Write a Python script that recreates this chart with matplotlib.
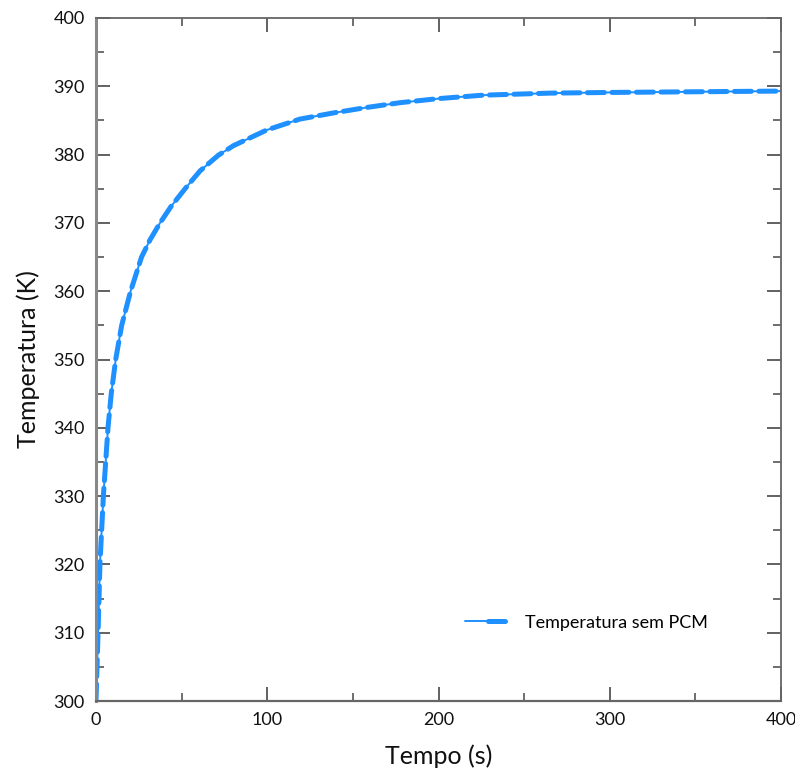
import matplotlib
matplotlib.use("Agg")
import matplotlib.pyplot as plt
from matplotlib.ticker import MultipleLocator
from matplotlib.legend_handler import HandlerTuple

# Data
tempo = [0, 1.2, 2.3, 4.3, 7.0, 8.9, 11.5, 15.0, 20.2, 26.6, 31.5, 37.4, 43.8,
         52.0, 60.7, 71.4, 80.2, 99.7, 119.1, 138.6, 158.0, 177.5, 200.0,
         226.0, 265.0, 300.0, 350.0, 400.0]
temperatura = [300.0, 310.0, 320.0, 330.0, 340.0, 345.0, 350.0, 355.0, 360.0,
               365.0, 367.5, 370.0, 372.4, 375.0, 377.6, 379.9, 381.3, 383.6,
               385.2, 386.1, 386.9, 387.6, 388.2, 388.7, 389.0, 389.1, 389.2, 389.3]
serie_label = "Temperatura sem PCM"
x_label = "Tempo (s)"
y_label = "Temperatura (K)"

plt.rcParams['font.family'] = ['Lato', 'DejaVu Sans']

fig = plt.figure(figsize=(7.95, 7.71), dpi=100)
ax = fig.add_axes([96/795, 1 - 701/771, (781-96)/795, (701-18)/771])

color = '#1E90FF'
l1, = ax.plot(tempo, temperatura, color=color, lw=1.4, solid_capstyle='round')
l2, = ax.plot(tempo, temperatura, color=color, lw=3.6, dashes=(3.4, 1.5),
              dash_capstyle='round')

ax.set_xlim(0, 400)
ax.set_ylim(300, 400)
ax.xaxis.set_major_locator(MultipleLocator(100))
ax.xaxis.set_minor_locator(MultipleLocator(50))
ax.yaxis.set_major_locator(MultipleLocator(10))
ax.yaxis.set_minor_locator(MultipleLocator(5))
ax.tick_params(which='both', direction='in', top=True, right=True,
               color='#555555', labelsize=13, labelcolor='#111111')
ax.tick_params(which='major', length=10, width=1.3, pad=8)
ax.tick_params(which='minor', length=6, width=1.2)
for s in ax.spines.values():
    s.set_color('#666666')
    s.set_linewidth(1.3)
ax.spines['left'].set_color('#888888')
ax.spines['left'].set_linewidth(2.2)
ax.spines['bottom'].set_linewidth(1.6)

ax.set_xlabel(x_label, fontsize=18, labelpad=12, color='#111111')
ax.set_ylabel(y_label, fontsize=18, labelpad=10, color='#111111')

ax.legend([(l1, l2)], [serie_label], handler_map={tuple: HandlerTuple(ndivide=None, pad=0)},
          loc='upper left', bbox_to_anchor=(0.515, 0.15), frameon=False,
          fontsize=13, handlelength=2.5, handletextpad=0.8)

fig.savefig("out.png", dpi=100)
